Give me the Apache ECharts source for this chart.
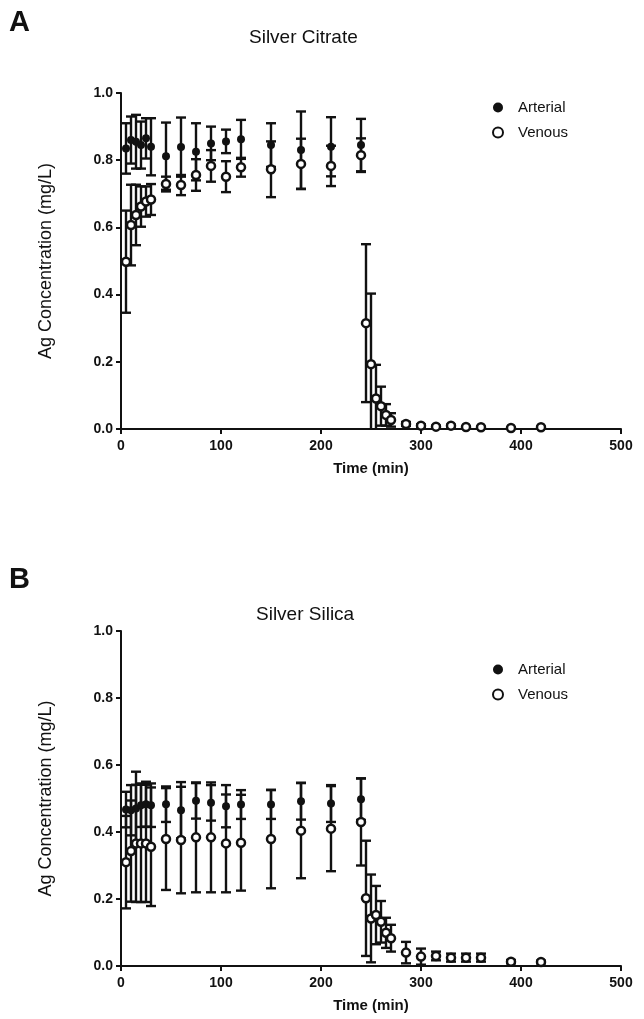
<!DOCTYPE html>
<html>
<head>
<meta charset="utf-8">
<script src="https://cdn.jsdelivr.net/npm/echarts@6/dist/echarts.min.js"></script>
<style>html,body{margin:0;padding:0;background:#fff}#c{width:644px;height:1019px}</style>
</head>
<body>
<div id="c"></div>
<script>
// ---------- Data ----------
const timesArterial = [5,10,15,20,25,30,45,60,75,90,105,120,150,180,210,240];
const timesVenous = [5,10,15,20,25,30,45,60,75,90,105,120,150,180,210,240,245,250,255,260,265,270,285,300,315,330,345,360,390,420];

// Panel A: Silver Citrate
const citrateArterialMean = [0.835,0.860,0.855,0.845,0.865,0.840,0.812,0.839,0.825,0.850,0.856,0.862,0.845,0.830,0.840,0.845];
const citrateArterialErr  = [0.075,0.070,0.080,0.070,0.060,0.085,0.100,0.088,0.085,0.050,0.035,0.058,0.065,0.115,0.088,0.078];
const citrateVenousMean = [0.498,0.607,0.637,0.662,0.677,0.683,0.729,0.726,0.756,0.783,0.751,0.779,0.773,0.789,0.783,0.815,0.315,0.193,0.091,0.068,0.042,0.027,0.015,0.010,0.007,0.010,0.006,0.005,0.003,0.005];
const citrateVenousErr  = [0.152,0.120,0.090,0.060,0.045,0.046,0.022,0.030,0.047,0.047,0.046,0.028,0.083,0.075,0.060,0.050,0.235,0.210,0.100,0.058,0.032,0.020,0.006,0.004,0.003,0.003,0.002,0.002,0.002,0.002];

// Panel B: Silver Silica
const silicaArterialMean = [0.467,0.465,0.470,0.480,0.483,0.480,0.483,0.465,0.493,0.487,0.477,0.482,0.482,0.492,0.485,0.498];
const silicaArterialErr  = [0.053,0.075,0.110,0.065,0.067,0.065,0.053,0.084,0.053,0.053,0.063,0.043,0.043,0.055,0.055,0.062];
const silicaVenousMean = [0.310,0.343,0.366,0.366,0.366,0.356,0.379,0.376,0.384,0.384,0.366,0.368,0.379,0.404,0.410,0.430,0.202,0.142,0.152,0.132,0.099,0.083,0.040,0.028,0.030,0.025,0.025,0.025,0.013,0.012];
const silicaVenousErr  = [0.138,0.151,0.175,0.175,0.175,0.177,0.152,0.159,0.164,0.164,0.146,0.143,0.147,0.142,0.127,0.130,0.172,0.131,0.087,0.062,0.045,0.040,0.032,0.024,0.013,0.012,0.012,0.012,0.005,0.004];

const yTicks = [0, 0.2, 0.4, 0.6, 0.8, 1.0];
const xTicks = [0, 100, 200, 300, 400, 500];
const panelTitles = ['Silver Citrate', 'Silver Silica'];
const panelLetters = ['A', 'B'];
const yAxisName = 'Ag Concentration (mg/L)';
const xAxisName = 'Time (min)';

// ---------- Chart ----------
const FONT = '"Liberation Sans", Arial, sans-serif';
const chart = echarts.init(document.getElementById('c'), null, {renderer: 'canvas'});

function pairs(t, m) { return t.map((x, i) => [x, m[i]]); }
function errData(t, m, e) { return t.map((x, i) => [x, m[i] - e[i], m[i] + e[i]]); }

function errorSeries(idx, data) {
  return {
    type: 'custom', xAxisIndex: idx, yAxisIndex: idx, silent: true, z: 2,
    data: data,
    renderItem: function (params, api) {
      const x = api.value(0);
      const lo = Math.max(api.value(1), 0);
      const hi = api.value(2);
      const pLo = api.coord([x, lo]);
      const pHi = api.coord([x, hi]);
      const hw = 5;
      const st = {stroke: '#111', lineWidth: 2.4};
      const children = [
        {type: 'line', shape: {x1: pHi[0], y1: pHi[1], x2: pLo[0], y2: pLo[1]}, style: st},
        {type: 'line', shape: {x1: pHi[0] - hw, y1: pHi[1], x2: pHi[0] + hw, y2: pHi[1]}, style: st}
      ];
      if (api.value(1) > 0) {
        children.push({type: 'line', shape: {x1: pLo[0] - hw, y1: pLo[1], x2: pLo[0] + hw, y2: pLo[1]}, style: st});
      }
      return {type: 'group', children: children};
    }
  };
}

function xAxis(idx) {
  return {
    type: 'value', gridIndex: idx, min: 0, max: 500, interval: 100,
    name: xAxisName, nameLocation: 'middle', nameGap: 32,
    nameTextStyle: {fontFamily: FONT, fontWeight: 'bold', fontSize: 15, color: '#111'},
    axisLine: {show: true, onZero: false, lineStyle: {color: '#111', width: 2}},
    axisTick: {show: true, length: 5, lineStyle: {color: '#111', width: 2}},
    axisLabel: {fontFamily: FONT, fontWeight: 'bold', fontSize: 14, color: '#111', margin: 10,
      formatter: v => xTicks.includes(v) ? String(v) : ''},
    splitLine: {show: false}
  };
}
function yAxis(idx) {
  return {
    type: 'value', gridIndex: idx, min: 0, max: 1, interval: 0.2,
    name: yAxisName, nameLocation: 'middle', nameGap: 66, nameRotate: 90,
    nameTextStyle: {fontFamily: FONT, fontSize: 18, color: '#111'},
    axisLine: {show: true, lineStyle: {color: '#111', width: 2}},
    axisTick: {show: true, length: 5, lineStyle: {color: '#111', width: 2}},
    axisLabel: {fontFamily: FONT, fontWeight: 'bold', fontSize: 14, color: '#111', margin: 8,
      formatter: v => yTicks.some(t => Math.abs(t - v) < 1e-9) ? v.toFixed(1) : ''},
    splitLine: {show: false}
  };
}

const arterialStyle = {color: '#111', borderColor: '#111', borderWidth: 0, opacity: 1};
const venousStyle = {color: '#fff', borderColor: '#111', borderWidth: 2.5, opacity: 1};

function scatter(idx, name, data, style, size, z) {
  return {type: 'scatter', name: name, xAxisIndex: idx, yAxisIndex: idx, data: data,
    symbol: 'circle', symbolSize: size, itemStyle: style, z: z, silent: true, clip: false};
}

const option = {
  animation: false,
  backgroundColor: '#fff',
  title: [
    {text: panelLetters[0], left: 4, top: 3, textStyle: {fontFamily: FONT, fontWeight: 'bold', fontSize: 29, color: '#111'}},
    {text: panelTitles[0], left: 244, top: 23, textStyle: {fontFamily: FONT, fontWeight: 'normal', fontSize: 19, color: '#111'}},
    {text: panelLetters[1], left: 4, top: 560, textStyle: {fontFamily: FONT, fontWeight: 'bold', fontSize: 29, color: '#111'}},
    {text: panelTitles[1], left: 251, top: 600, textStyle: {fontFamily: FONT, fontWeight: 'normal', fontSize: 19, color: '#111'}}
  ],
  legend: [
    {data: ['Arterial', 'Venous'], orient: 'vertical', left: 487, top: 95, itemGap: 10, itemWidth: 10, itemHeight: 10,
      textStyle: {fontFamily: FONT, fontSize: 15, color: '#111', padding: [0, 0, 0, 10]}, selectedMode: false},
    {data: ['Arterial', 'Venous'], orient: 'vertical', left: 487, top: 657, itemGap: 10, itemWidth: 10, itemHeight: 10,
      textStyle: {fontFamily: FONT, fontSize: 15, color: '#111', padding: [0, 0, 0, 10]}, selectedMode: false}
  ],
  grid: [
    {left: 121, top: 93, width: 500, height: 336},
    {left: 121, top: 631, width: 500, height: 335}
  ],
  xAxis: [xAxis(0), xAxis(1)],
  yAxis: [yAxis(0), yAxis(1)],
  series: [
    errorSeries(0, errData(timesArterial, citrateArterialMean, citrateArterialErr)),
    scatter(0, 'Arterial', pairs(timesArterial, citrateArterialMean), arterialStyle, 8, 3),
    errorSeries(0, errData(timesVenous, citrateVenousMean, citrateVenousErr)),
    scatter(0, 'Venous', pairs(timesVenous, citrateVenousMean), venousStyle, 8, 4),
    errorSeries(1, errData(timesArterial, silicaArterialMean, silicaArterialErr)),
    scatter(1, 'Arterial', pairs(timesArterial, silicaArterialMean), arterialStyle, 8, 3),
    errorSeries(1, errData(timesVenous, silicaVenousMean, silicaVenousErr)),
    scatter(1, 'Venous', pairs(timesVenous, silicaVenousMean), venousStyle, 8, 4)
  ]
};
chart.setOption(option);
</script>
</body>
</html>
